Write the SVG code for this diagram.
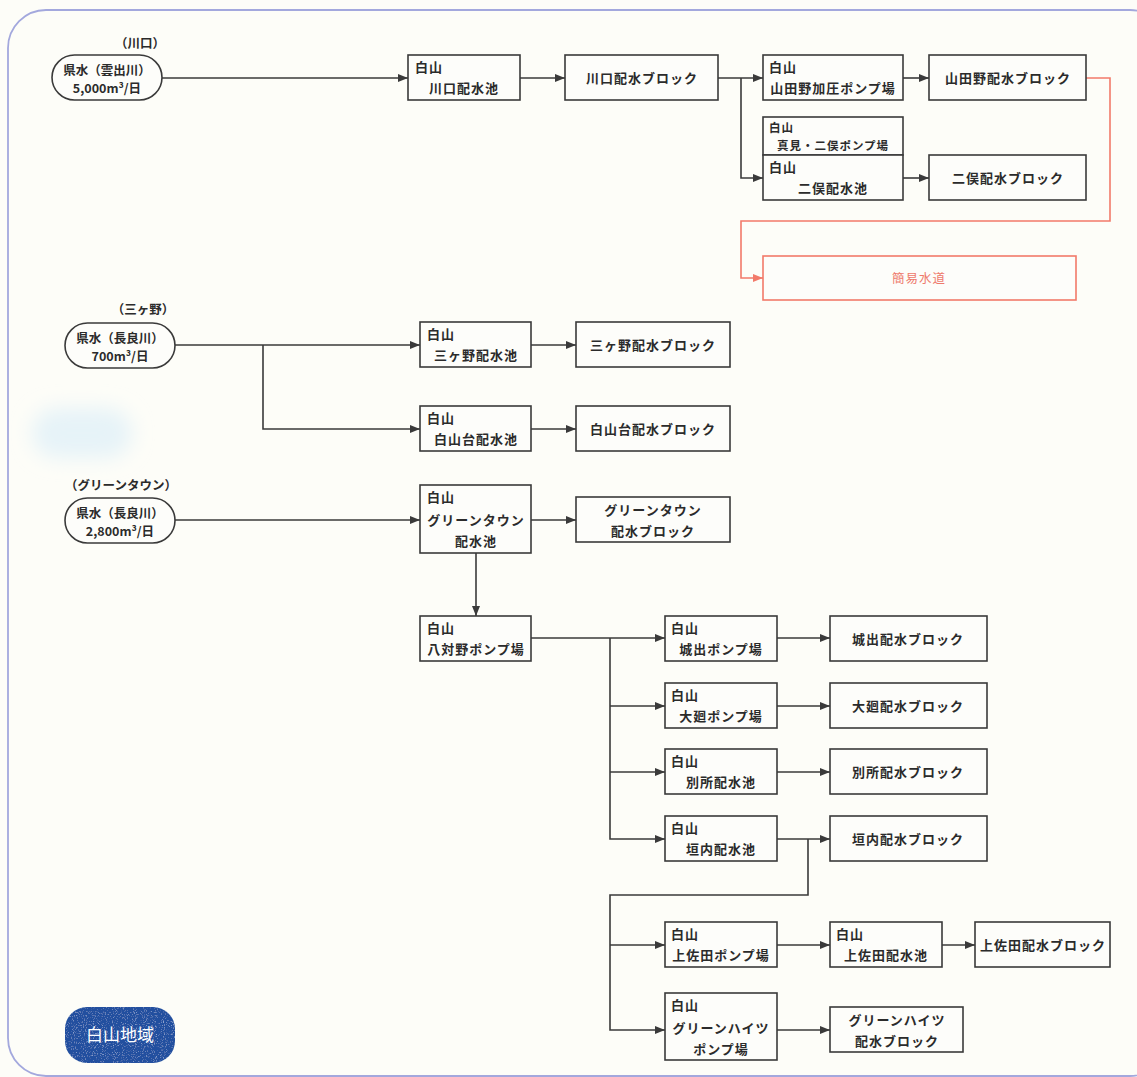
<svg xmlns="http://www.w3.org/2000/svg" width="1137" height="1077" viewBox="0 0 1137 1077">
  <style>
    .bg { fill: #fdfdf8; }
    .frame { fill: none; stroke: #a3a8dd; stroke-width: 1.8; }
    .box { fill: #fdfdfa; stroke: #3a3a3a; stroke-width: 1.6; }
    .pill { fill: #fdfdfa; stroke: #3a3a3a; stroke-width: 1.6; }
    .redbox { fill: #fdfdfa; stroke: #f27a6a; stroke-width: 1.6; }
    .ln { fill: none; stroke: #3a3a3a; stroke-width: 1.6; }
    .rln { fill: none; stroke: #f27a6a; stroke-width: 1.6; }
    text { font-family: "Noto Sans CJK JP", "Noto Sans", sans-serif; font-size: 13px; font-weight: 700; fill: #2b2b2b; letter-spacing: 1px; }
    .c { text-anchor: middle; }
    .sm { font-size: 11.5px; }
    .src { font-size: 12.5px; letter-spacing: 0; }
    .red { fill: #ee7a6c; font-weight: 400; font-size: 12.5px; }
    .tag { fill: #ffffff; font-size: 17px; font-weight: 400; letter-spacing: 0; }
  </style>
  <defs>
    <marker id="arr" viewBox="0 0 10 8" refX="10" refY="4" markerWidth="10" markerHeight="8" markerUnits="userSpaceOnUse" orient="auto">
      <path d="M0,0 L10,4 L0,8 z" fill="#3a3a3a"/>
    </marker>
    <marker id="arrRed" viewBox="0 0 10 8" refX="10" refY="4" markerWidth="10" markerHeight="8" markerUnits="userSpaceOnUse" orient="auto">
      <path d="M0,0 L10,4 L0,8 z" fill="#f27a6a"/>
    </marker>
    <filter id="soft" x="-50%" y="-50%" width="200%" height="200%">
      <feGaussianBlur stdDeviation="10"/>
    </filter>
    <!-- speckled print texture for the area tag -->
    <filter id="grain" x="0" y="0" width="100%" height="100%">
      <feTurbulence type="fractalNoise" baseFrequency="0.9" numOctaves="2" seed="3" result="n"/>
      <feColorMatrix in="n" type="matrix" values="0 0 0 0 0.55  0 0 0 0 0.7  0 0 0 0 0.95  0 0 0 1.6 -0.9" result="spots"/>
      <feComposite in="spots" in2="SourceGraphic" operator="in" result="clip"/>
      <feMerge><feMergeNode in="SourceGraphic"/><feMergeNode in="clip"/></feMerge>
    </filter>
  </defs>

  <!-- page background and rounded frame -->
  <rect class="bg" x="0" y="0" width="1137" height="1077"/>
  <rect x="32" y="408" width="100" height="50" rx="25" fill="#e6f3f8" filter="url(#soft)"/>
  <rect class="frame" x="8" y="10" width="1160" height="1066" rx="38"/>

  <!-- connectors -->
  <g id="connectors">
    <path class="ln" d="M162,78 H408" marker-end="url(#arr)"/>
    <path class="ln" d="M520,78 H565" marker-end="url(#arr)"/>
    <path class="ln" d="M718,78 H763" marker-end="url(#arr)"/>
    <path class="ln" d="M741,78 V178 H763" marker-end="url(#arr)"/>
    <path class="ln" d="M903,78 H929" marker-end="url(#arr)"/>
    <path class="ln" d="M903,178 H929" marker-end="url(#arr)"/>
    <path class="rln" d="M1086,78 H1110 V221 H741 V278 H763" marker-end="url(#arrRed)"/>

    <path class="ln" d="M175,345 H420" marker-end="url(#arr)"/>
    <path class="ln" d="M263,345 V429 H420" marker-end="url(#arr)"/>
    <path class="ln" d="M531,345 H576" marker-end="url(#arr)"/>
    <path class="ln" d="M531,429 H576" marker-end="url(#arr)"/>

    <path class="ln" d="M175,520 H420" marker-end="url(#arr)"/>
    <path class="ln" d="M531,520 H576" marker-end="url(#arr)"/>
    <path class="ln" d="M476,553 V616" marker-end="url(#arr)"/>

    <path class="ln" d="M531,638 H665" marker-end="url(#arr)"/>
    <path class="ln" d="M610,638 V839 H665" marker-end="url(#arr)"/>
    <path class="ln" d="M610,706 H665" marker-end="url(#arr)"/>
    <path class="ln" d="M610,772 H665" marker-end="url(#arr)"/>
    <path class="ln" d="M777,638 H830" marker-end="url(#arr)"/>
    <path class="ln" d="M777,706 H830" marker-end="url(#arr)"/>
    <path class="ln" d="M777,772 H830" marker-end="url(#arr)"/>
    <path class="ln" d="M777,839 H830" marker-end="url(#arr)"/>

    <path class="ln" d="M808,839 V895 H610 V1030 H665" marker-end="url(#arr)"/>
    <path class="ln" d="M610,945 H665" marker-end="url(#arr)"/>
    <path class="ln" d="M777,945 H830" marker-end="url(#arr)"/>
    <path class="ln" d="M942,945 H975" marker-end="url(#arr)"/>
    <path class="ln" d="M777,1030 H830" marker-end="url(#arr)"/>
  </g>

  <!-- 川口 system -->
  <g id="src-kawaguchi">
    <text class="c src" x="140" y="48">（川口）</text>
    <rect class="pill" x="52" y="55" width="110" height="45" rx="22.5"/>
    <text class="c src" x="107" y="75">県水（雲出川）</text>
    <text class="c src" x="107" y="93">5,000m³/日</text>
  </g>
  <g id="res-kawaguchi">
    <rect class="box" x="408" y="55" width="112" height="45"/>
    <text x="415" y="72">白山</text>
    <text class="c" x="464" y="93">川口配水池</text>
  </g>
  <g id="blk-kawaguchi">
    <rect class="box" x="565" y="55" width="153" height="45"/>
    <text class="c" x="642" y="83">川口配水ブロック</text>
  </g>
  <g id="pump-yamadano">
    <rect class="box" x="763" y="55" width="140" height="45"/>
    <text x="769" y="72">白山</text>
    <text class="c" x="833" y="93">山田野加圧ポンプ場</text>
  </g>
  <g id="blk-yamadano">
    <rect class="box" x="929" y="55" width="157" height="45"/>
    <text class="c" x="1008" y="83">山田野配水ブロック</text>
  </g>
  <g id="pump-mami-futamata">
    <rect class="box" x="763" y="117" width="140" height="38"/>
    <text class="sm" x="769" y="132">白山</text>
    <text class="c sm" x="833" y="150">真見・二俣ポンプ場</text>
  </g>
  <g id="res-futamata">
    <rect class="box" x="763" y="155" width="140" height="45"/>
    <text x="769" y="172">白山</text>
    <text class="c" x="833" y="193">二俣配水池</text>
  </g>
  <g id="blk-futamata">
    <rect class="box" x="929" y="155" width="157" height="45"/>
    <text class="c" x="1008" y="183">二俣配水ブロック</text>
  </g>
  <g id="kani-suido">
    <rect class="redbox" x="763" y="256" width="313" height="44"/>
    <text class="c red" x="919" y="283">簡易水道</text>
  </g>

  <!-- 三ヶ野 system -->
  <g id="src-mikeno">
    <text class="c src" x="143" y="314">（三ヶ野）</text>
    <rect class="pill" x="65" y="323" width="110" height="45" rx="22.5"/>
    <text class="c src" x="120" y="343">県水（長良川）</text>
    <text class="c src" x="120" y="361">700m³/日</text>
  </g>
  <g id="res-mikeno">
    <rect class="box" x="420" y="322" width="111" height="45"/>
    <text x="427" y="339">白山</text>
    <text class="c" x="476" y="360">三ヶ野配水池</text>
  </g>
  <g id="blk-mikeno">
    <rect class="box" x="576" y="322" width="154" height="45"/>
    <text class="c" x="653" y="350">三ヶ野配水ブロック</text>
  </g>
  <g id="res-hakusandai">
    <rect class="box" x="420" y="406" width="111" height="45"/>
    <text x="427" y="423">白山</text>
    <text class="c" x="476" y="444">白山台配水池</text>
  </g>
  <g id="blk-hakusandai">
    <rect class="box" x="576" y="406" width="154" height="45"/>
    <text class="c" x="653" y="434">白山台配水ブロック</text>
  </g>

  <!-- グリーンタウン system -->
  <g id="src-greentown">
    <text class="c src" x="121" y="490">（グリーンタウン）</text>
    <rect class="pill" x="65" y="498" width="110" height="45" rx="22.5"/>
    <text class="c src" x="120" y="518">県水（長良川）</text>
    <text class="c src" x="120" y="536">2,800m³/日</text>
  </g>
  <g id="res-greentown">
    <rect class="box" x="420" y="485" width="111" height="68"/>
    <text x="427" y="502">白山</text>
    <text class="c" x="476" y="525">グリーンタウン</text>
    <text class="c" x="476" y="546">配水池</text>
  </g>
  <g id="blk-greentown">
    <rect class="box" x="576" y="497" width="154" height="45"/>
    <text class="c" x="653" y="515">グリーンタウン</text>
    <text class="c" x="653" y="536">配水ブロック</text>
  </g>
  <g id="pump-yatsuno">
    <rect class="box" x="420" y="616" width="111" height="45"/>
    <text x="427" y="633">白山</text>
    <text class="c" x="476" y="654">八対野ポンプ場</text>
  </g>

  <g id="pump-joude">
    <rect class="box" x="665" y="616" width="112" height="45"/>
    <text x="671" y="633">白山</text>
    <text class="c" x="721" y="654">城出ポンプ場</text>
  </g>
  <g id="blk-joude">
    <rect class="box" x="830" y="616" width="157" height="45"/>
    <text class="c" x="908" y="644">城出配水ブロック</text>
  </g>
  <g id="pump-oomawari">
    <rect class="box" x="665" y="683" width="112" height="45"/>
    <text x="671" y="700">白山</text>
    <text class="c" x="721" y="721">大廻ポンプ場</text>
  </g>
  <g id="blk-oomawari">
    <rect class="box" x="830" y="683" width="157" height="45"/>
    <text class="c" x="908" y="711">大廻配水ブロック</text>
  </g>
  <g id="res-bessho">
    <rect class="box" x="665" y="749" width="112" height="45"/>
    <text x="671" y="766">白山</text>
    <text class="c" x="721" y="787">別所配水池</text>
  </g>
  <g id="blk-bessho">
    <rect class="box" x="830" y="749" width="157" height="45"/>
    <text class="c" x="908" y="777">別所配水ブロック</text>
  </g>
  <g id="res-kaito">
    <rect class="box" x="665" y="816" width="112" height="45"/>
    <text x="671" y="833">白山</text>
    <text class="c" x="721" y="854">垣内配水池</text>
  </g>
  <g id="blk-kaito">
    <rect class="box" x="830" y="816" width="157" height="45"/>
    <text class="c" x="908" y="844">垣内配水ブロック</text>
  </g>

  <g id="pump-kamisada">
    <rect class="box" x="665" y="922" width="112" height="45"/>
    <text x="671" y="939">白山</text>
    <text class="c" x="721" y="960">上佐田ポンプ場</text>
  </g>
  <g id="res-kamisada">
    <rect class="box" x="830" y="922" width="112" height="45"/>
    <text x="836" y="939">白山</text>
    <text class="c" x="886" y="960">上佐田配水池</text>
  </g>
  <g id="blk-kamisada">
    <rect class="box" x="975" y="922" width="135" height="45"/>
    <text class="c" x="1043" y="950">上佐田配水ブロック</text>
  </g>
  <g id="pump-greenheights">
    <rect class="box" x="665" y="993" width="112" height="67"/>
    <text x="671" y="1010">白山</text>
    <text class="c" x="721" y="1033">グリーンハイツ</text>
    <text class="c" x="721" y="1054">ポンプ場</text>
  </g>
  <g id="blk-greenheights">
    <rect class="box" x="830" y="1007" width="133" height="45"/>
    <text class="c" x="897" y="1025">グリーンハイツ</text>
    <text class="c" x="897" y="1046">配水ブロック</text>
  </g>

  <!-- area tag -->
  <g id="area-tag">
    <rect x="65" y="1007" width="110" height="56" rx="22" fill="#21509f" filter="url(#grain)"/>
    <text class="c tag" x="120" y="1041">白山地域</text>
  </g>
</svg>
